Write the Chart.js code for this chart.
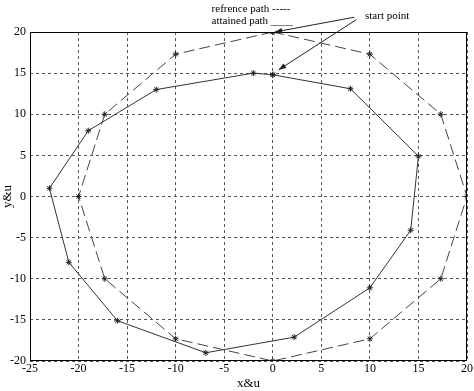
<!DOCTYPE html>
<html><head><meta charset="utf-8">
<script src="https://cdn.jsdelivr.net/npm/chart.js@4/dist/chart.umd.min.js"></script>
<style>html,body{margin:0;padding:0;background:#fff}#wrap{width:474px;height:391px}</style>
</head><body><div id="wrap"><canvas id="c" width="474" height="391"></canvas></div>
<script>
const refX = [0, 10, 17.3, 20, 17.3, 10, 0, -10, -17.3, -20, -17.3, -10, 0];
const refY = [20, 17.3, 10, 0, -10, -17.3, -20, -17.3, -10, 0, 10, 17.3, 20];
const attX = [0, 8, 15, 14.2, 10, 2.2, -6.9, -16, -21, -23, -19, -12, -2, 0];
const attY = [14.8, 13.1, 4.9, -4.1, -11.1, -17.1, -19, -15.1, -8, 1, 8, 13, 15, 14.8];
const xTicks = [-25, -20, -15, -10, -5, 0, 5, 10, 15, 20];
const yTicks = [-20, -15, -10, -5, 0, 5, 10, 15, 20];
const legendRef = 'refrence path -----';
const legendAtt = 'attained path ____';
const startLabel = 'start point';
// annotation anchors in data coordinates
const legendPos = {x: -6.3, yRef: 22.8, yAtt: 21.3};
const startPos = {x: 9.5, y: 21.9};
const arrows = [
  {from: [8.4, 21.8], to: [0.2, 20.0]},
  {from: [8.6, 21.5], to: [0.6, 15.4]}
];
const serif = '"Liberation Serif", "DejaVu Serif", serif';

const pts = (xs, ys) => xs.map((x, i) => ({x, y: ys[i]}));

const annot = {
  id: 'annot',
  afterDraw(chart) {
    const {ctx, chartArea: a, scales: {x, y}} = chart;
    ctx.save();
    ctx.strokeStyle = '#000';
    ctx.lineWidth = 1;
    ctx.setLineDash([]);
    ctx.strokeRect(a.left + 0.5, a.top + 0.5, a.right - a.left - 1, a.bottom - a.top - 1);
    ctx.fillStyle = '#000';
    ctx.font = '11px ' + serif;
    ctx.textBaseline = 'middle';
    ctx.textAlign = 'left';
    ctx.fillText(legendRef, x.getPixelForValue(legendPos.x), y.getPixelForValue(legendPos.yRef));
    ctx.fillText(legendAtt, x.getPixelForValue(legendPos.x), y.getPixelForValue(legendPos.yAtt));
    ctx.fillText(startLabel, x.getPixelForValue(startPos.x), y.getPixelForValue(startPos.y));
    ctx.strokeStyle = '#222';
    for (const ar of arrows) {
      const x1 = x.getPixelForValue(ar.from[0]), y1 = y.getPixelForValue(ar.from[1]);
      const x2 = x.getPixelForValue(ar.to[0]), y2 = y.getPixelForValue(ar.to[1]);
      ctx.beginPath(); ctx.moveTo(x1, y1); ctx.lineTo(x2, y2); ctx.stroke();
      const ang = Math.atan2(y2 - y1, x2 - x1), L = 8, w = 0.35;
      ctx.beginPath();
      ctx.moveTo(x2, y2);
      ctx.lineTo(x2 - L * Math.cos(ang - w), y2 - L * Math.sin(ang - w));
      ctx.lineTo(x2 - L * Math.cos(ang + w), y2 - L * Math.sin(ang + w));
      ctx.closePath(); ctx.fillStyle = '#222'; ctx.fill();
    }
    ctx.restore();
  }
};

new Chart(document.getElementById('c'), {
  type: 'scatter',
  data: {
    datasets: [
      {label: 'refrence path', data: pts(refX, refY), showLine: true, borderColor: '#444', borderWidth: 1,
       borderDash: [11, 5], pointStyle: 'star', pointRadius: 3, pointBorderColor: '#222', pointBorderWidth: 1, pointBackgroundColor: '#222'},
      {label: 'attained path', data: pts(attX, attY), showLine: true, borderColor: '#333', borderWidth: 1,
       pointStyle: 'star', pointRadius: 3, pointBorderColor: '#222', pointBorderWidth: 1, pointBackgroundColor: '#222'}
    ]
  },
  options: {
    responsive: false, animation: false, devicePixelRatio: 1,
    layout: {padding: {top: 32, right: 6, left: 0, bottom: 0}},
    plugins: {legend: {display: false}, tooltip: {enabled: false}},
    scales: {
      x: {
        type: 'linear', min: -25, max: 20,
        afterBuildTicks: s => { s.ticks = xTicks.map(v => ({value: v})); },
        afterFit: s => { s.height = 30; },
        ticks: {color: '#000', font: {family: serif, size: 12}, padding: 1, maxRotation: 0},
        grid: {color: '#555', lineWidth: 1, drawTicks: false},
        border: {display: false, dash: [3, 3]},
        title: {display: true, text: 'x&u', color: '#000', font: {family: serif, size: 13}, padding: {top: 0, bottom: 0}}
      },
      y: {
        type: 'linear', min: -20, max: 20,
        afterBuildTicks: s => { s.ticks = yTicks.map(v => ({value: v})); },
        afterFit: s => { s.width = 30; },
        ticks: {color: '#000', font: {family: serif, size: 12}, padding: 4},
        grid: {color: '#555', lineWidth: 1, drawTicks: false},
        border: {display: false, dash: [3, 3]},
        title: {display: true, text: 'y&u', color: '#000', font: {family: serif, size: 13}, padding: {top: 0, bottom: 0}}
      }
    }
  },
  plugins: [annot]
});
</script></body></html>
